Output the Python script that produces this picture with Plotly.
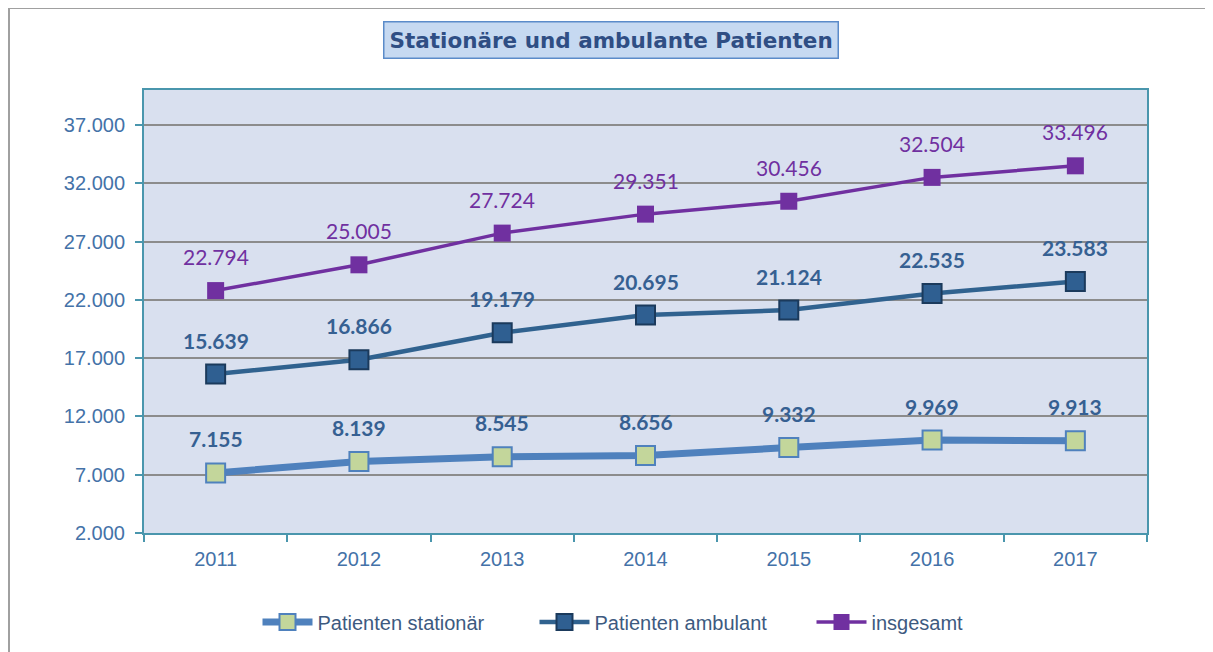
import plotly.graph_objects as go

years = ["2011", "2012", "2013", "2014", "2015", "2016", "2017"]
stationaer = [7155, 8139, 8545, 8656, 9332, 9969, 9913]
ambulant = [15639, 16866, 19179, 20695, 21124, 22535, 23583]
insgesamt = [22794, 25005, 27724, 29351, 30456, 32504, 33496]
y_ticks = [2000, 7000, 12000, 17000, 22000, 27000, 32000, 37000]

x = list(range(len(years)))

def de(v):
    return f"{v:,}".replace(",", ".")

# page body adds an 8px offset; figure is sized so it ends at the window edge
W, H = 1205, 644
ML, MR, MT, MB = 136, 66, 82, 119
PW, PH = W - ML - MR, H - MT - MB

def px(xp):  # window px -> paper x
    return (xp - 8 - ML) / PW

def py(yp):  # window px -> paper y
    return 1 - (yp - 8 - MT) / PH

fig = go.Figure()
fig.add_trace(go.Scatter(
    x=x, y=stationaer, name="Patienten stationär", mode="lines+markers",
    line=dict(color="#4F81BD", width=7),
    marker=dict(symbol="square", size=19, color="#C3D69B", line=dict(color="#4F81BD", width=2)),
))
fig.add_trace(go.Scatter(
    x=x, y=ambulant, name="Patienten ambulant", mode="lines+markers",
    line=dict(color="#30628F", width=4.5),
    marker=dict(symbol="square", size=19, color="#2F5F91", line=dict(color="#1B3A5C", width=2)),
))
fig.add_trace(go.Scatter(
    x=x, y=insgesamt, name="insgesamt", mode="lines+markers",
    line=dict(color="#7030A0", width=3.5),
    marker=dict(symbol="square", size=17, color="#7030A0", line=dict(color="#7030A0", width=0)),
))

annotations = []
for series, color, bold in [(stationaer, "#366092", True), (ambulant, "#366092", True), (insgesamt, "#7030A0", False)]:
    for xi, v in zip(x, series):
        txt = de(v)
        if bold:
            txt = "<b>" + txt + "</b>"
        annotations.append(dict(
            x=xi, y=v, xref="x", yref="y", text=txt, showarrow=False,
            yshift=34, font=dict(family="Lato, Open Sans, sans-serif", size=21, color=color),
        ))

annotations.append(dict(
    x=px(611), y=py(40), xref="paper", yref="paper", xanchor="center", yanchor="middle",
    text="<b>Stationäre und ambulante Patienten</b>",
    showarrow=False, font=dict(family="DejaVu Sans, Verdana, sans-serif", size=21.5, color="#2F4E84"),
    bgcolor="#C6D9F1", bordercolor="#5B8BC9", borderwidth=1.5, borderpad=5,
))

fig.update_layout(
    width=W, height=H,
    margin=dict(l=ML, r=MR, t=MT, b=MB, autoexpand=False),
    paper_bgcolor="white", plot_bgcolor="#D9E0EF",
    font=dict(family="Liberation Sans, Arial, sans-serif", size=20, color="#4472A8"),
    showlegend=True,
    legend=dict(orientation="h", x=px(673), xanchor="center", y=py(622), yanchor="middle",
                font=dict(size=20, color="#3D5A80"), itemwidth=50, entrywidth=212,
                bgcolor="rgba(0,0,0,0)", traceorder="normal"),
    annotations=annotations,
    xaxis=dict(
        range=[-0.5, 6.5], tickmode="array", tickvals=x, ticktext=years,
        showgrid=False, zeroline=False, ticks="", showline=False,
        tickfont=dict(size=20, color="#4472A8"), ticklabelstandoff=12,
    ),
    xaxis2=dict(
        range=[-0.5, 6.5], tickmode="array", tickvals=[i - 0.5 for i in range(len(years) + 1)],
        showticklabels=False, ticks="outside", ticklen=7, tickwidth=2, tickcolor="#4A96AD",
        overlaying="x", anchor="y", showgrid=False, zeroline=False,
        showline=True, linecolor="#4A96AD", linewidth=2, mirror=True,
    ),
    yaxis=dict(
        range=[2000, 40000], tickmode="array", tickvals=y_ticks,
        ticktext=[de(v) for v in y_ticks],
        showgrid=True, gridcolor="#8C8C8C", gridwidth=1.5, zeroline=False,
        ticks="outside", ticklen=7, tickwidth=2, tickcolor="#4A96AD",
        showline=True, linecolor="#4A96AD", linewidth=2, mirror=True,
        tickfont=dict(size=20, color="#4472A8"), ticklabelstandoff=6,
    ),
    shapes=[
        dict(type="line", xref="paper", yref="paper",
             x0=px(8), x1=px(1213), y0=py(8), y1=py(8),
             line=dict(color="#A0A0A0", width=2)),
        dict(type="line", xref="paper", yref="paper",
             x0=px(9), x1=px(9), y0=py(8), y1=py(652),
             line=dict(color="#A0A0A0", width=2)),
    ],
)
fig.add_trace(go.Scatter(x=[None], y=[None], xaxis="x2", showlegend=False, hoverinfo="skip"))

fig.write_html("out.html")
